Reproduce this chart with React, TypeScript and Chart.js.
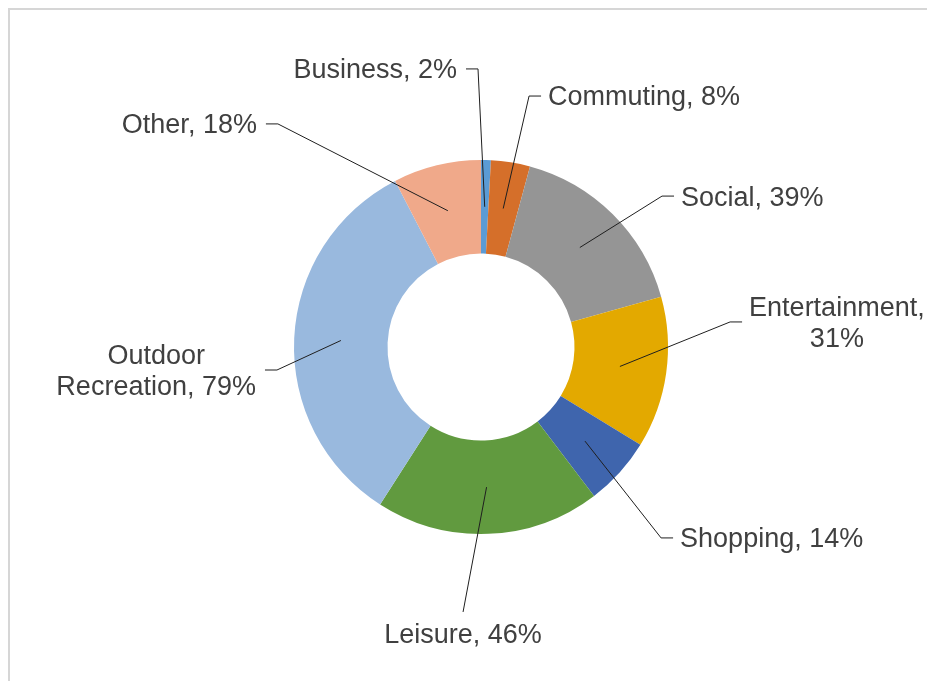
import React, { useEffect, useRef } from "react";
import { Chart, registerables } from "chart.js";

Chart.register(...registerables);

// ---- data ----
const categories = [
  "Business",
  "Commuting",
  "Social",
  "Entertainment",
  "Shopping",
  "Leisure",
  "Outdoor Recreation",
  "Other",
];
const percentages = [2, 8, 39, 31, 14, 46, 79, 18];

// ---- styles / layout (not data) ----
const sliceColors = [
  "#5b9bd5",
  "#d56f2a",
  "#959595",
  "#e3a900",
  "#3f65ad",
  "#619a3f",
  "#99b9de",
  "#f0a98a",
];
// elbow of each leader line, relative to centre, in units of the outer radius
const labelElbowX = [-0.016, 0.257, 0.968, 1.332, 0.963, -0.096, -1.091, -1.086];
const labelElbowY = [-1.487, -1.342, -0.807, -0.134, 1.021, 1.417, 0.123, -1.193];
const labelSide = ["left", "right", "right", "right", "right", "below", "left", "left"];
const labelWrap = [Infinity, Infinity, Infinity, 200, Infinity, Infinity, 210, Infinity];

const FONT = '27px "Liberation Sans", Arial, sans-serif';
const TEXT_COLOR = "#404040";
const LINE_COLOR = "#1f1f1f";
const LINE_HEIGHT = 31;

function wrapText(ctx: CanvasRenderingContext2D, text: string, maxW: number): string[] {
  const words = text.split(" ");
  const lines: string[] = [];
  let cur = "";
  for (const w of words) {
    const test = cur ? cur + " " + w : w;
    if (cur && ctx.measureText(test).width > maxW) {
      lines.push(cur);
      cur = w;
    } else {
      cur = test;
    }
  }
  if (cur) lines.push(cur);
  return lines;
}

const leaderLabels = {
  id: "leaderLabels",
  afterDatasetsDraw(chart: any) {
    const ctx: CanvasRenderingContext2D = chart.ctx;
    const meta = chart.getDatasetMeta(0);
    ctx.save();
    ctx.font = FONT;
    ctx.lineWidth = 1;
    ctx.strokeStyle = LINE_COLOR;
    ctx.fillStyle = TEXT_COLOR;
    ctx.textAlign = "center";
    ctx.textBaseline = "middle";
    meta.data.forEach((arc: any, i: number) => {
      const { x, y, startAngle, endAngle, innerRadius, outerRadius } = arc.getProps(
        ["x", "y", "startAngle", "endAngle", "innerRadius", "outerRadius"],
        true
      );
      const mid = (startAngle + endAngle) / 2;
      const rMid = (innerRadius + outerRadius) / 2;
      const px = x + Math.cos(mid) * rMid;
      const py = y + Math.sin(mid) * rMid;
      const ex = x + labelElbowX[i] * outerRadius;
      const ey = y + labelElbowY[i] * outerRadius;
      const side = labelSide[i];
      let tailX = ex;
      if (side === "left") tailX = ex - 12;
      else if (side === "right") tailX = ex + 12;

      ctx.beginPath();
      ctx.moveTo(px, py);
      ctx.lineTo(ex, ey);
      ctx.lineTo(tailX, ey);
      ctx.stroke();

      const lines = wrapText(ctx, `${categories[i]}, ${percentages[i]}%`, labelWrap[i]);
      const blockW = Math.max(...lines.map((l) => ctx.measureText(l).width));
      let cx = ex;
      let cy = ey + 2;
      if (side === "left") cx = tailX - 9 - blockW / 2;
      else if (side === "right") cx = tailX + 7 + blockW / 2;
      else cy = ey + 8 + (lines.length * LINE_HEIGHT) / 2;
      lines.forEach((l, k) => {
        ctx.fillText(l, cx, cy + (k - (lines.length - 1) / 2) * LINE_HEIGHT);
      });
    });
    ctx.restore();
  },
};

export default function App() {
  const canvasRef = useRef<HTMLCanvasElement | null>(null);

  useEffect(() => {
    if (!canvasRef.current) return;
    const chart = new Chart(canvasRef.current, {
      type: "doughnut",
      data: {
        labels: categories,
        datasets: [
          {
            data: percentages,
            backgroundColor: sliceColors,
            borderWidth: 0,
          },
        ],
      },
      options: {
        responsive: false,
        animation: false,
        cutout: "50%",
        layout: { padding: { top: 150, bottom: 147, left: 200, right: 183 } },
        plugins: {
          legend: { display: false },
          tooltip: { enabled: false },
        },
      },
      plugins: [leaderLabels],
    });
    return () => chart.destroy();
  }, []);

  return (
    <div
      style={{
        width: 925,
        height: 671,
        borderLeft: "2px solid #d6d6d6",
        borderTop: "2px solid #d6d6d6",
        background: "#ffffff",
        overflow: "hidden",
      }}
    >
      <canvas ref={canvasRef} width={925} height={671} style={{ display: "block" }} />
    </div>
  );
}
